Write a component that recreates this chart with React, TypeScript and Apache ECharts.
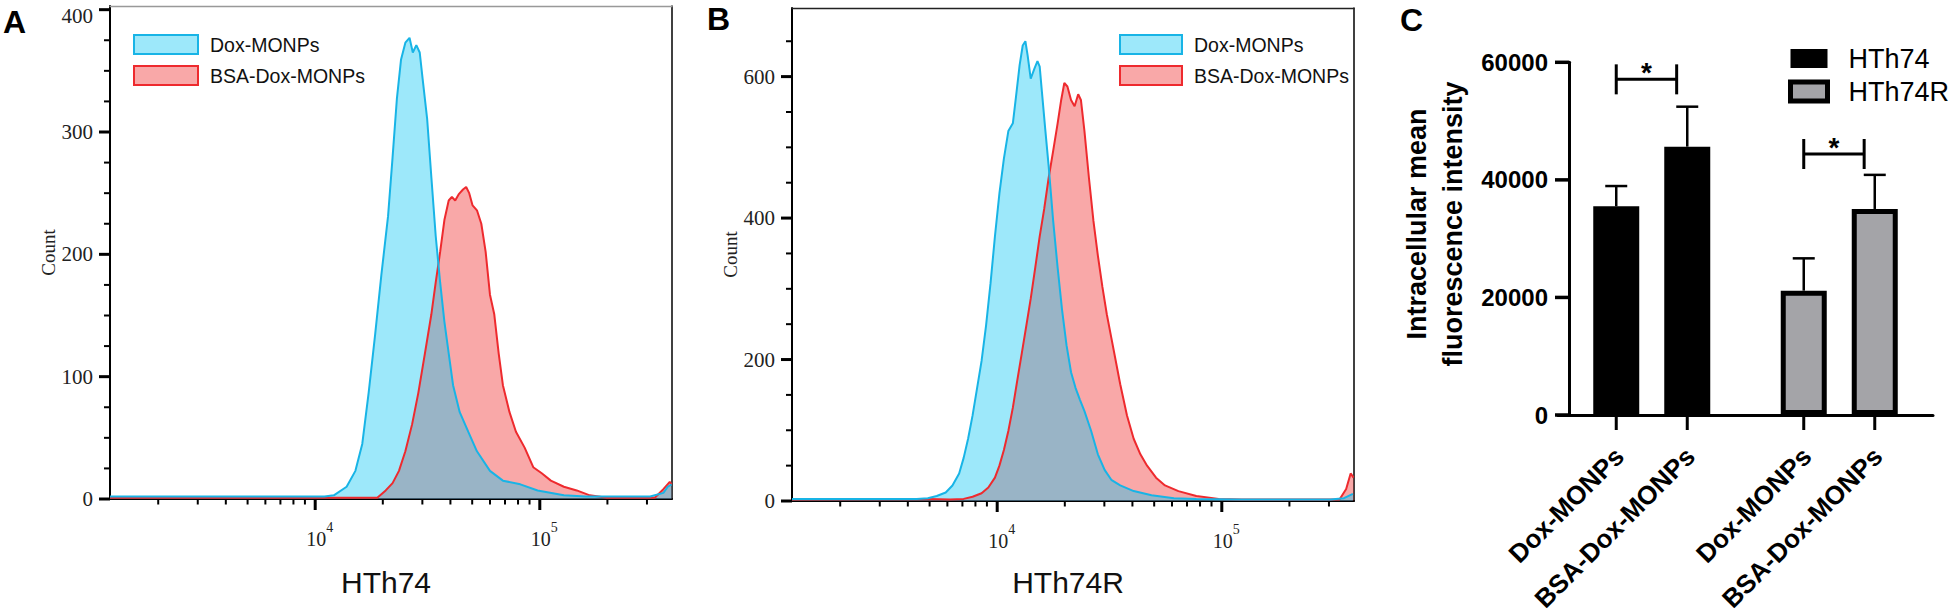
import React, { useEffect, useRef } from 'react';
import * as echarts from 'echarts';

// ---------- Panel A / B : flow cytometry histograms ----------
// [fluorescence intensity, count]
const histA_Dox: [number, number][] = [
  [1220, 2], [11000, 2], [12100, 3], [13800, 10], [15100, 23], [16200, 45], [17300, 87], [18500, 135],
  [19700, 183], [21100, 231], [22100, 279], [23100, 327], [24100, 359], [25200, 373], [26300, 377],
  [27200, 365], [28200, 371], [29200, 365], [30100, 343], [31500, 311], [32900, 263], [34400, 215],
  [36000, 177], [37600, 145], [39300, 119], [41100, 93], [44000, 71], [48000, 55], [52500, 39],
  [60000, 23], [68500, 15], [81900, 12], [97800, 7], [128000, 3], [160000, 2], [310000, 2],
  [355000, 5], [371000, 10], [386000, 12],
];
const histA_BSA: [number, number][] = [
  [1220, 1], [18900, 1], [20600, 7], [22100, 13], [23600, 23], [25200, 39], [27000, 61], [28800, 87],
  [30800, 119], [32900, 151], [34400, 177], [36000, 202], [37600, 228], [39300, 244], [40600, 247],
  [42000, 244], [43500, 249], [45500, 253], [47000, 255], [48500, 250], [50200, 240], [52500, 236],
  [54900, 225], [57400, 202], [60000, 167], [62700, 151], [65600, 119], [68500, 93], [73300, 71],
  [78300, 55], [85600, 42], [93500, 26], [102000, 21], [112000, 15], [128000, 10], [146000, 7],
  [167000, 3], [199000, 1], [325000, 1], [355000, 8], [379000, 14], [386000, 12],
];
const histB_Dox: [number, number][] = [
  [1220, 3], [4380, 3], [4910, 4], [5380, 7], [5900, 12], [6320, 22], [6770, 39], [7090, 61], [7420, 88],
  [7770, 121], [8140, 160], [8520, 198], [8920, 248], [9340, 308], [9770, 374], [10230, 435],
  [10710, 484], [11210, 523], [11740, 534], [12130, 572], [12580, 616], [12990, 644], [13350, 650],
  [13660, 630], [14100, 597], [14630, 611], [15110, 622], [15460, 614], [15820, 578], [16340, 528],
  [16950, 473], [17750, 396], [18580, 330], [19450, 270], [20360, 220], [21320, 182], [22320, 160],
  [23360, 143], [24460, 127], [26200, 99], [28070, 66], [30080, 44], [32210, 30], [35300, 22],
  [40520, 14], [48680, 8], [61220, 4], [77000, 3], [121800, 2], [304900, 2], [349900, 4], [383500, 10],
];
const histB_BSA: [number, number][] = [
  [1220, 2], [4910, 3], [6180, 2], [7090, 3], [7770, 6], [8520, 11], [9130, 19], [9770, 33], [10230, 50],
  [10710, 72], [11210, 99], [11740, 132], [12290, 171], [12870, 209], [13480, 248], [14100, 286],
  [14770, 330], [15460, 374], [16190, 413], [16950, 457], [17750, 495], [18580, 534], [19270, 567],
  [19900, 591], [20540, 586], [21320, 567], [22110, 558], [22940, 575], [23590, 567], [24460, 523],
  [25610, 457], [26820, 396], [28070, 347], [29390, 303], [30760, 264], [32210, 231], [33720, 198],
  [35300, 165], [37830, 121], [40520, 88], [43410, 66], [46480, 50], [50950, 33], [55850, 22],
  [64100, 14], [77000, 7], [96860, 3], [121800, 2], [334200, 2], [357900, 17], [374700, 39], [386000, 33],
];

const histSeriesNames = ['Dox-MONPs', 'BSA-Dox-MONPs'];
const histXMajor = [10000, 100000];
const histXMinor = [2000, 3000, 4000, 5000, 6000, 7000, 8000, 9000,
  20000, 30000, 40000, 50000, 60000, 70000, 80000, 90000, 200000, 300000];
const histXRange = [1220, 387800];
const aYMajor = [0, 100, 200, 300, 400];
const aYMinor = [25, 50, 75, 125, 150, 175, 225, 250, 275, 325, 350, 375];
const aYMax = 403;
const bYMajor = [0, 200, 400, 600];
const bYMinor = [50, 100, 150, 250, 300, 350, 450, 500, 550, 650];
const bYMax = 697;

// ---------- Panel C : bar chart ----------
const cCellLines = ['HTh74', 'HTh74R'];
const cTreatments = ['Dox-MONPs', 'BSA-Dox-MONPs'];
const cMeanHTh74 = [35500, 45650];
const cErrHTh74 = [3450, 6800];
const cMeanHTh74R = [21150, 35050];
const cErrHTh74R = [5500, 5800];
const cSigLevel = [57100, 44400];
const cSigLabel = ['*', '*'];
const cYTicks = [0, 20000, 40000, 60000];

const SANS = 'Liberation Sans, Arial, sans-serif';
const SERIF = 'Liberation Serif, Times New Roman, serif';
const BLUE_LINE = '#18b4e6';
const RED_LINE = '#ee2a2e';
const BLUE_FILL = 'rgba(10,198,243,0.4)';
const RED_FILL = 'rgba(240,38,38,0.4)';
const GRAY = '#a4a4a8';
const C_Y_OFFSET = 11;

const lg = (v: number) => Math.log10(v);
const toLog = (pts: [number, number][]) => pts.map(([x, y]) => [lg(x), y]);
const LOG_MIN = lg(histXRange[0]);
const LOG_MAX = lg(histXRange[1]);

function histAxes(grid: number, yMax: number, yMajor: number[], name: string,
  nameGapX: number, nameGapY: number, topColor: string, topLabel: number) {
  const base = { gridIndex: grid, type: 'value' as const, min: LOG_MIN, max: LOG_MAX, splitLine: { show: false } };
  const xAxes = [
    {
      ...base, position: 'bottom',
      axisLine: { show: true, onZero: false, lineStyle: { color: '#000', width: 2 } },
      axisTick: { show: false },
      axisLabel: {
        show: true, customValues: histXMajor.map(lg), margin: 21,
        formatter: (v: number) => `{b|10}{s|${Math.round(v)}}`,
        rich: {
          b: { fontFamily: SERIF, fontSize: 20, color: '#222', verticalAlign: 'middle', padding: [0, 0, 0, 9] },
          s: { fontFamily: SERIF, fontSize: 14, color: '#222', padding: [0, 0, 23, 0] },
        },
      },
      name, nameLocation: 'middle', nameGap: nameGapX,
      nameTextStyle: { fontFamily: SANS, fontSize: 30, color: '#111', padding: [0, 10, 0, 0] },
    },
    {
      ...base, position: 'top',
      axisLine: { show: true, onZero: false, lineStyle: { color: topColor, width: 1.3 } },
      axisTick: { show: false }, axisLabel: { show: false },
    },
  ];
  const ybase = { gridIndex: grid, type: 'value' as const, min: 0, max: yMax, splitLine: { show: false } };
  const yAxes = [
    {
      ...ybase, position: 'left',
      axisLine: { show: true, onZero: false, lineStyle: { color: '#000', width: 2 } },
      axisTick: { show: false },
      axisLabel: {
        show: true, customValues: yMajor, margin: 17, fontFamily: SERIF, fontSize: 21, color: '#222',
        formatter: (v: number) => (v === topLabel ? `{t|${v}}` : `${v}`),
        rich: { t: { fontFamily: SERIF, fontSize: 21, color: '#222', padding: [13, 0, 0, 0] } },
      },
      name: 'Count', nameLocation: 'middle', nameGap: nameGapY,
      nameTextStyle: { fontFamily: SERIF, fontSize: 19, color: '#222' },
    },
    {
      ...ybase, position: 'right',
      axisLine: { show: true, onZero: false, lineStyle: { color: '#000', width: 1.5 } },
      axisTick: { show: false }, axisLabel: { show: false },
    },
  ];
  return { xAxes, yAxes };
}

// tick marks: small rect symbols placed through the axes' own scales
function tickSeries(xIdx: number, yIdx: number, points: number[][], size: number[], offset: number[]) {
  return {
    type: 'scatter', xAxisIndex: xIdx, yAxisIndex: yIdx, data: points, symbol: 'rect',
    symbolSize: size, symbolOffset: offset, itemStyle: { color: '#000', opacity: 1 },
    clip: false, silent: true, z: 6,
  };
}

function histSeries(axisIdx: number, dox: [number, number][], bsa: [number, number][],
  yMajor: number[], yMinor: number[]) {
  const common = {
    type: 'line' as const, xAxisIndex: axisIdx, yAxisIndex: axisIdx, showSymbol: false, symbol: 'none',
    silent: true, clip: true,
  };
  return [
    { ...common, name: histSeriesNames[1], data: toLog(bsa), lineStyle: { color: RED_LINE, width: 2 },
      itemStyle: { color: RED_LINE }, areaStyle: { color: RED_FILL, opacity: 1 } },
    { ...common, name: histSeriesNames[0], data: toLog(dox), lineStyle: { color: BLUE_LINE, width: 2 },
      itemStyle: { color: BLUE_LINE }, areaStyle: { color: BLUE_FILL, opacity: 1 } },
    tickSeries(axisIdx, axisIdx, histXMajor.map((v) => [lg(v), 0]), [3, 11], [0, 5.5]),
    tickSeries(axisIdx, axisIdx, histXMinor.map((v) => [lg(v), 0]), [2, 5.5], [0, 2.75]),
    tickSeries(axisIdx, axisIdx, yMajor.map((v) => [LOG_MIN, v]), [11, 3], [-5.5, 0]),
    tickSeries(axisIdx, axisIdx, yMinor.map((v) => [LOG_MIN, v]), [6, 2], [-3, 0]),
  ];
}

const BAR_SPACING = 0.3787; // centre-to-centre distance of the two bars in a group, in band units
const BAR_WIDTH = 0.2453;
const SIG_RIGHT_INSET = 0.0565;

function barRenderer(fill: string, strokeW: number) {
  return (params: any, api: any) => {
    const g = api.value(0);
    const t = api.value(1);
    const mean = api.value(2);
    const err = api.value(3);
    const band = api.size([1, 0])[0];
    const base = api.coord([g, 0]);
    const cx = base[0] + (t - 0.5) * band * BAR_SPACING;
    const y0 = base[1];
    const yTop = api.coord([g, mean])[1];
    const yErr = api.coord([g, mean + err])[1];
    const bw = band * BAR_WIDTH;
    const ins = strokeW / 2;
    return {
      type: 'group',
      children: [
        { type: 'line', shape: { x1: cx, y1: yTop, x2: cx, y2: yErr }, style: { stroke: '#000', lineWidth: 2.5 } },
        { type: 'line', shape: { x1: cx - 11, y1: yErr, x2: cx + 11, y2: yErr }, style: { stroke: '#000', lineWidth: 2.5 } },
        {
          type: 'rect',
          shape: { x: cx - bw / 2 + ins, y: yTop + ins, width: bw - 2 * ins, height: y0 - yTop - 2 * ins },
          style: strokeW > 0 ? { fill, stroke: '#000', lineWidth: strokeW } : { fill },
        },
        { type: 'line', shape: { x1: cx, y1: y0, x2: cx, y2: y0 + 15 }, style: { stroke: '#000', lineWidth: 3 } },
        {
          type: 'text', x: cx + 3, y: y0 + 37, rotation: Math.PI / 4,
          style: {
            text: cTreatments[t], fontFamily: SANS, fontWeight: 'bold', fontSize: 26, fill: '#000',
            align: 'right', verticalAlign: 'middle',
          },
        },
      ],
    };
  };
}

function sigRenderer(params: any, api: any) {
  const g = api.value(0);
  const lvl = api.value(1);
  const band = api.size([1, 0])[0];
  const c = api.coord([g, lvl]);
  const xL = c[0] - 0.5 * band * BAR_SPACING;
  const xR = c[0] + 0.5 * band * BAR_SPACING - band * SIG_RIGHT_INSET;
  const y = c[1];
  const ls = { stroke: '#000', lineWidth: 3 };
  return {
    type: 'group',
    children: [
      { type: 'line', shape: { x1: xL, y1: y, x2: xR, y2: y }, style: ls },
      { type: 'line', shape: { x1: xL, y1: y - 15, x2: xL, y2: y + 15 }, style: ls },
      { type: 'line', shape: { x1: xR, y1: y - 15, x2: xR, y2: y + 15 }, style: ls },
      {
        type: 'text', x: (xL + xR) / 2, y: y - 7,
        style: { text: cSigLabel[g], fontFamily: SANS, fontWeight: 'bold', fontSize: 28, fill: '#000', align: 'center', verticalAlign: 'middle' },
      },
    ],
  };
}

function buildOption() {
  const a = histAxes(0, aYMax, aYMajor, 'HTh74', 68, 48, '#999', 400);
  const b = histAxes(1, bYMax, bYMajor, 'HTh74R', 66, 50, '#222', -1);

  const cX = {
    gridIndex: 2, type: 'category', data: cCellLines, position: 'bottom', boundaryGap: true,
    axisLine: { show: true, onZero: false, lineStyle: { color: '#000', width: 3 } },
    axisTick: { show: false }, axisLabel: { show: false }, splitLine: { show: false },
  };
  // helper axis (hidden) giving the left edge of grid C for the y tick marks
  const cXEdge = { gridIndex: 2, type: 'value', min: 0, max: 1, show: false, splitLine: { show: false } };
  const cY = {
    gridIndex: 2, type: 'value', position: 'left', offset: -C_Y_OFFSET, min: 0, max: 60000, interval: 20000,
    axisLine: { show: true, onZero: false, lineStyle: { color: '#000', width: 3 } },
    axisTick: { show: false },
    axisLabel: {
      show: true, customValues: cYTicks, margin: 21, fontFamily: SANS, fontWeight: 'bold', fontSize: 24, color: '#000',
      formatter: (v: number) => String(v),
    },
    splitLine: { show: false },
  };

  const legendText = { fontFamily: SANS, fontSize: 19.5, color: '#111', padding: [0, 0, 0, 7] };
  const histLegendData = [
    { name: histSeriesNames[0], itemStyle: { color: BLUE_FILL, borderColor: BLUE_LINE, borderWidth: 2 } },
    { name: histSeriesNames[1], itemStyle: { color: RED_FILL, borderColor: RED_LINE, borderWidth: 2 } },
  ];

  return {
    animation: false,
    backgroundColor: '#fff',
    grid: [
      { left: 110, top: 6, width: 562, height: 493, outerBoundsMode: 'none', containLabel: false },
      { left: 792, top: 8, width: 562, height: 493, outerBoundsMode: 'none', containLabel: false },
      { left: 1558, top: 62.3, width: 375, height: 352.7, outerBoundsMode: 'none', containLabel: false },
    ],
    xAxis: [...a.xAxes, ...b.xAxes, cX, cXEdge],
    yAxis: [...a.yAxes, ...b.yAxes, cY],
    legend: [
      { left: 128, top: 29, orient: 'vertical', icon: 'rect', itemWidth: 64, itemHeight: 19, itemGap: 10,
        selectedMode: false, textStyle: legendText, data: histLegendData },
      { left: 1114, top: 29, orient: 'vertical', icon: 'rect', itemWidth: 62, itemHeight: 19, itemGap: 10,
        selectedMode: false, textStyle: legendText, data: histLegendData },
      { left: 1783, top: 40, orient: 'vertical', icon: 'rect', itemWidth: 37, itemHeight: 19, itemGap: 6,
        selectedMode: false, textStyle: { fontFamily: SANS, fontSize: 27, color: '#000', padding: [0, 0, 0, 16] },
        data: [
          { name: cCellLines[0], itemStyle: { color: '#000', borderWidth: 0 } },
          { name: cCellLines[1], itemStyle: { color: GRAY, borderColor: '#000', borderWidth: 5 } },
        ] },
    ],
    graphic: [
      { type: 'text', left: 3, top: 6, style: { text: 'A', fontFamily: SANS, fontWeight: 'bold', fontSize: 32, fill: '#000' } },
      { type: 'text', left: 707, top: 3, style: { text: 'B', fontFamily: SANS, fontWeight: 'bold', fontSize: 32, fill: '#000' } },
      { type: 'text', left: 1400, top: 4, style: { text: 'C', fontFamily: SANS, fontWeight: 'bold', fontSize: 32, fill: '#000' } },
      {
        type: 'text', x: 1435, y: 224, rotation: Math.PI / 2,
        style: {
          text: 'Intracellular mean\nfluorescence intensity', fontFamily: SANS, fontWeight: 'bold', fontSize: 27,
          lineHeight: 36, fill: '#000', align: 'center', verticalAlign: 'middle',
        },
      },
    ],
    series: [
      ...histSeries(0, histA_Dox, histA_BSA, aYMajor, aYMinor),
      ...histSeries(2, histB_Dox, histB_BSA, bYMajor, bYMinor),
      {
        type: 'custom', name: cCellLines[0], xAxisIndex: 4, yAxisIndex: 4, clip: false, silent: true,
        itemStyle: { color: '#000' },
        data: cTreatments.map((_, t) => [0, t, cMeanHTh74[t], cErrHTh74[t]]),
        encode: { x: 0, y: 2 },
        renderItem: barRenderer('#000', 0),
      },
      {
        type: 'custom', name: cCellLines[1], xAxisIndex: 4, yAxisIndex: 4, clip: false, silent: true,
        itemStyle: { color: GRAY },
        data: cTreatments.map((_, t) => [1, t, cMeanHTh74R[t], cErrHTh74R[t]]),
        encode: { x: 0, y: 2 },
        renderItem: barRenderer(GRAY, 5),
      },
      {
        type: 'custom', name: 'significance', xAxisIndex: 4, yAxisIndex: 4, clip: false, silent: true,
        data: cSigLevel.map((v, g) => [g, v]),
        encode: { x: 0, y: 1 },
        renderItem: sigRenderer,
      },
      tickSeries(5, 4, cYTicks.map((v) => [0, v]), [14, 3.5], [C_Y_OFFSET - 7, 0]),
    ],
  };
}

export default function App() {
  const ref = useRef<HTMLDivElement>(null);
  useEffect(() => {
    if (!ref.current) return;
    const chart = echarts.init(ref.current, null, { renderer: 'svg' });
    chart.setOption(buildOption() as any);
    return () => chart.dispose();
  }, []);
  return (
    <div
      ref={ref}
      style={{ position: 'fixed', left: 0, top: 0, width: 1952, height: 613, background: '#fff' }}
    />
  );
}
